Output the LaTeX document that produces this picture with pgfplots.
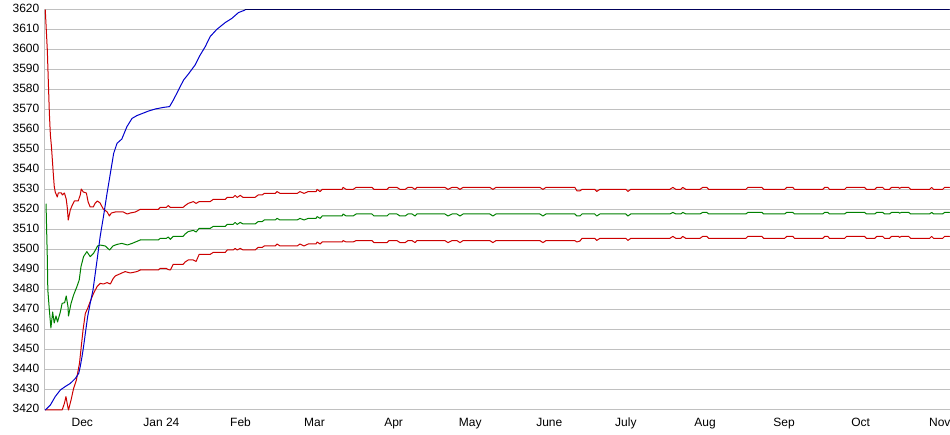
\documentclass[border=0pt]{standalone}
\usepackage{pgfplots}
\pgfplotsset{compat=1.18}
\usepackage{pgfplotstable}
\usepackage{fontspec}
\setmainfont{Liberation Sans}
\definecolor{cred}{HTML}{CC0000}
\definecolor{cgreen}{HTML}{008000}
\definecolor{cblue}{HTML}{0000CC}
\definecolor{cnavy}{HTML}{00005A}
\definecolor{cgrid}{HTML}{C0C0C0}

% days since 1 Dec 2023; upper band, middle, lower band
\pgfplotstableread{
d up mid lo
22.7 3520.3 3505.0 3490.0
29.8 3520.3 3505.0 3490.0
30.5 3521.3 3505.8 3490.8
32.9 3521.3 3505.8 3490.8
33.7 3522.2 3506.5 3490.2
34.5 3521.3 3505.3 3490.0
35.6 3521.3 3506.8 3492.8
39.5 3521.3 3506.8 3492.8
40.3 3522.2 3508.0 3494.0
41.5 3523.3 3509.2 3495.0
43.5 3524.2 3509.8 3495.0
44.6 3523.3 3509.0 3494.3
45.8 3524.2 3510.8 3497.8
50.1 3524.2 3510.8 3497.8
51.3 3525.3 3511.8 3498.8
56.0 3525.3 3511.8 3498.8
56.8 3526.3 3512.8 3500.0
59.1 3526.3 3512.8 3500.0
59.9 3527.3 3513.8 3500.8
60.7 3526.3 3512.8 3500.0
61.9 3527.3 3513.8 3500.8
63.0 3526.3 3513.0 3500.0
67.7 3526.3 3513.0 3500.0
68.9 3527.5 3514.2 3501.3
70.5 3527.5 3514.2 3501.3
71.3 3528.3 3515.0 3502.0
75.6 3528.3 3515.0 3502.0
76.3 3529.2 3515.8 3503.0
77.5 3528.3 3515.0 3502.0
84.2 3528.3 3515.0 3502.0
85.3 3529.2 3515.8 3503.0
86.9 3528.3 3515.0 3502.0
88.5 3529.2 3515.8 3503.0
91.6 3529.2 3515.8 3503.0
92.0 3530.3 3516.7 3504.0
93.2 3529.2 3515.8 3503.0
94.0 3530.3 3517.0 3504.0
101.8 3530.3 3517.0 3504.0
102.2 3531.3 3518.0 3504.7
103.4 3530.3 3517.0 3504.0
106.1 3530.3 3517.0 3504.0
107.3 3531.3 3518.0 3504.7
113.5 3531.3 3518.0 3504.7
114.3 3530.3 3517.0 3503.7
119.4 3530.3 3517.0 3503.7
120.2 3531.3 3518.0 3504.7
123.3 3531.3 3518.0 3504.7
124.5 3530.3 3517.0 3503.7
126.5 3530.3 3517.0 3503.7
127.6 3531.3 3518.0 3504.7
129.2 3531.3 3518.0 3504.7
130.4 3530.3 3517.0 3503.7
131.1 3531.3 3518.0 3504.7
142.1 3531.3 3518.0 3504.7
143.3 3530.3 3517.0 3503.7
144.9 3531.3 3518.0 3504.7
146.8 3531.3 3518.0 3504.7
148.0 3530.3 3517.0 3503.7
149.2 3531.3 3518.0 3504.7
159.7 3531.3 3518.0 3504.7
160.9 3530.3 3517.0 3503.7
162.1 3531.3 3518.0 3504.7
179.3 3531.3 3518.0 3504.7
180.5 3530.3 3517.0 3503.7
181.7 3531.3 3518.0 3504.7
193.0 3531.3 3518.0 3504.7
193.8 3529.6 3517.0 3504.0
195.0 3529.6 3517.0 3504.5
195.8 3530.3 3518.0 3505.8
200.8 3530.3 3518.0 3505.8
201.6 3529.3 3517.0 3504.8
202.8 3530.3 3518.0 3505.8
213.0 3530.3 3518.0 3505.8
213.8 3529.3 3517.0 3504.8
214.9 3530.3 3518.0 3505.8
230.2 3530.3 3518.0 3505.8
231.4 3531.3 3518.8 3506.8
232.6 3530.3 3518.0 3505.8
234.5 3530.3 3518.0 3505.8
235.3 3531.3 3518.8 3506.8
236.5 3530.3 3518.0 3505.8
242.0 3530.3 3518.0 3505.8
243.1 3531.3 3518.8 3506.8
244.7 3531.3 3518.8 3506.8
245.5 3530.3 3518.0 3505.8
260.0 3530.3 3518.0 3505.8
260.8 3531.3 3518.8 3506.8
266.3 3531.3 3518.8 3506.8
267.0 3530.3 3518.0 3505.8
275.2 3530.3 3518.0 3505.8
276.0 3531.3 3518.8 3506.8
278.4 3531.3 3518.8 3506.8
279.1 3530.3 3518.0 3505.8
290.1 3530.3 3518.0 3505.8
290.9 3531.3 3518.8 3506.8
292.1 3531.3 3518.8 3506.8
292.8 3530.3 3518.0 3505.8
298.7 3530.3 3518.0 3505.8
299.5 3531.3 3518.8 3506.8
306.5 3531.3 3518.8 3506.8
307.3 3530.3 3518.0 3505.8
310.5 3530.3 3518.0 3505.8
311.3 3531.3 3518.8 3506.8
313.6 3531.3 3518.8 3506.8
314.4 3530.3 3518.0 3505.8
316.3 3530.3 3518.0 3505.8
317.1 3531.3 3518.8 3506.8
319.9 3531.3 3518.8 3506.8
320.2 3530.8 3518.4 3506.3
321.0 3531.3 3518.8 3506.8
323.8 3531.3 3518.8 3506.8
324.6 3530.3 3518.0 3505.8
332.0 3530.3 3518.0 3505.8
332.8 3531.3 3518.8 3506.8
333.6 3530.3 3518.0 3505.8
337.1 3530.3 3518.0 3505.8
337.9 3531.3 3518.8 3506.8
339.8 3531.3 3518.8 3506.8
}\band

\begin{document}
\begin{tikzpicture}
\begin{axis}[
  width=679.5pt, height=300pt, scale only axis,
  xmin=-15, xmax=340, ymin=3420, ymax=3620,
  ytick distance=10,
  xtick={0,31,62,91,122,152,183,213,244,275,305,336},
  xticklabels={Dec,Jan 24,Feb,Mar,Apr,May,June,July,Aug,Sep,Oct,Nov},
  ymajorgrids, major grid style={cgrid, line width=0.75pt},
  axis x line*=bottom, axis y line*=left,
  axis line style={cgrid, line width=0.75pt, -},
  major tick length=0pt,
  tick label style={font=\fontsize{9}{10}\selectfont},
  typeset ticklabels with strut,
  xticklabel style={yshift=-2pt},
  yticklabel style={xshift=0pt},
  /pgf/number format/assume math mode=true,
  /pgf/number format/1000 sep={},
  clip=false,
  every axis plot/.append style={line width=0.75pt, line join=round, line cap=round},
]
\coordinate (ll) at (rel axis cs:0,0);
\coordinate (ur) at (rel axis cs:1,1);

% lower band
\addplot[cred] coordinates {
(-14.5,3420) (-7.9,3420) (-7.0,3423.3) (-6.4,3426.7) (-5.8,3422.5) (-5.4,3420)
(-4.4,3425) (-3.4,3430.8) (-2.3,3435) (-1.7,3439.2) (-1.1,3443.3) (-0.4,3451.7)
(0.3,3460) (1.2,3468.3) (2.1,3470.8) (3.1,3474.2) (4.4,3478.3) (5.8,3481.7)
(7.0,3483.3) (8.3,3483) (9.7,3483.7) (11.0,3483) (12.0,3485.5) (12.9,3487)
(15.5,3488.5) (16.8,3489.2) (18.8,3488.5) (21.4,3489.2) (22.7,3490)};
\addplot[cred] table[x=d, y=lo] {\band};

% middle
\addplot[cgreen] coordinates {
(-14.2,3523) (-14.0,3512) (-13.7,3496) (-13.5,3480) (-12.9,3470) (-12.3,3461)
(-11.6,3469) (-11.0,3463.5) (-10.3,3467) (-9.7,3464) (-8.6,3469) (-7.9,3473.3)
(-6.9,3473.7) (-6.3,3477) (-5.6,3471.7) (-5.4,3467) (-4.4,3473.3) (-3.4,3477.5)
(-2.1,3481.7) (-1.2,3485) (-0.5,3491.7) (0.5,3496.7) (1.8,3499.2) (3.1,3496.7)
(4.4,3498.3) (6.0,3502) (7.0,3502.5) (9.0,3502) (10.7,3500) (12.0,3502)
(13.6,3502.8) (15.5,3503.3) (17.7,3502.5) (19.5,3503.3) (22.7,3505)};
\addplot[cgreen] table[x=d, y=mid] {\band};

% upper band
\addplot[cred] coordinates {
(-14.5,3620) (-14.1,3610) (-13.7,3600) (-13.3,3584) (-12.9,3568.5) (-12.5,3557.5)
(-12.1,3552) (-11.4,3539) (-11.0,3532) (-10.6,3529) (-9.8,3526.5) (-9.4,3528.5)
(-8.2,3528.5) (-7.8,3527.5) (-7.0,3528.5) (-6.3,3525.5) (-5.9,3521.5) (-5.5,3515)
(-4.7,3520) (-3.9,3522.5) (-3.1,3524.5) (-1.6,3524.5) (-0.8,3527.5) (-0.4,3530.5)
(0.4,3529) (1.6,3528.5) (2.3,3524) (3.1,3521.5) (4.3,3521.5) (5.1,3523.5)
(5.9,3524.5) (7.0,3523.5) (8.2,3520.5) (9.8,3519) (10.6,3517) (11.4,3518.5)
(12.9,3519) (16.1,3519) (17.6,3518) (18.8,3518.5) (20.8,3519) (22.7,3520.3)};
\addplot[cred] table[x=d, y=up] {\band};

% level
\addplot[cblue] coordinates {
(-14.5,3420) (-12.5,3422.5) (-10.6,3426.7) (-8.6,3430) (-6.7,3431.7) (-4.7,3433.3)
(-2.7,3435.8) (-1.4,3438.3) (-0.8,3441.7) (-0.1,3446.7) (0.5,3451.7) (1.2,3458.3)
(2.1,3466.7) (3.1,3473.3) (4.2,3480) (5.8,3495) (7.0,3506.7) (8.3,3516.7)
(9.7,3528.3) (11.0,3538.3) (12.3,3548.3) (13.6,3553.3) (15.5,3555.5) (17.5,3561.7)
(19.5,3565.8) (21.4,3567.2) (24.0,3568.5) (26.0,3569.5) (28.6,3570.5) (31.8,3571.3)
(34.2,3571.7) (35.7,3575) (37.7,3580) (39.7,3585) (41.6,3588) (44.2,3592.5)
(46.2,3597.5) (48.2,3601.7) (50.1,3606.7) (52.7,3610.3) (56.0,3613.7) (58.6,3615.8)
(61.2,3618.7) (63.8,3620)};
\addplot[cnavy] coordinates {(63.8,3620) (339.8,3620)};
\end{axis}
\pgfresetboundingbox
\path ([shift={(-33pt,-18.75pt)}]ll) rectangle ([shift={(0pt,7.5pt)}]ur);
\end{tikzpicture}
\end{document}
